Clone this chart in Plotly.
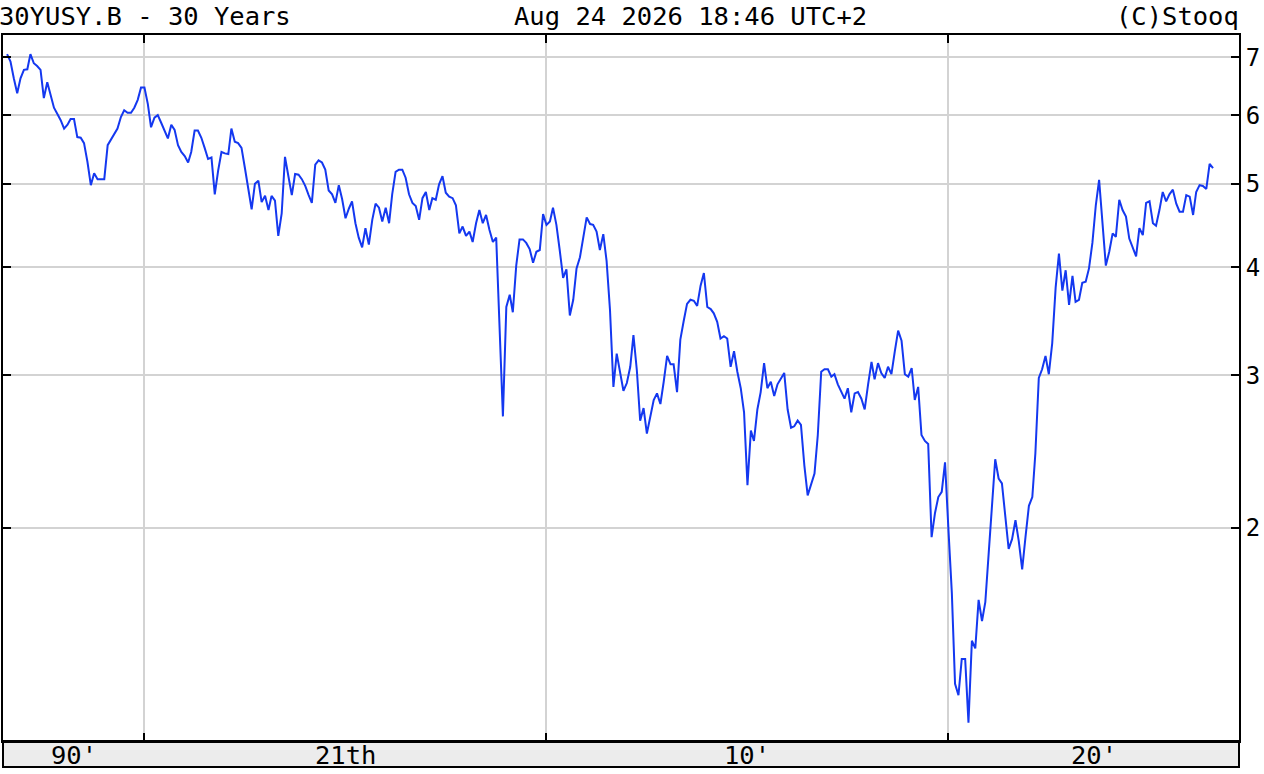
import pandas as pd
import plotly.graph_objects as go

# ---------------- data (monthly closes, % yield) ----------------
start_month = "1996-08-01"

yields_1996_1999 = [
    7.06, 6.92, 6.62, 6.36, 6.62,
    6.77, 6.78, 7.06, 6.89, 6.84, 6.77, 6.28, 6.55, 6.32, 6.12, 6.02, 5.92,
    5.79, 5.85, 5.94, 5.94, 5.66, 5.65, 5.57, 5.30, 4.98, 5.14, 5.06, 5.06,
    5.06, 5.54, 5.62, 5.70, 5.79, 5.97, 6.08, 6.04, 6.04, 6.12, 6.25, 6.46,
]
yields_2000s = [
    6.46, 6.18, 5.81, 5.96, 6.00, 5.88, 5.77, 5.64, 5.85, 5.77, 5.54, 5.44,
    5.38, 5.29, 5.44, 5.76, 5.76, 5.65, 5.50, 5.34, 5.36, 4.86, 5.18, 5.44,
    5.42, 5.41, 5.79, 5.59, 5.57, 5.50, 5.22, 4.93, 4.67, 5.00, 5.04, 4.76,
    4.84, 4.66, 4.84, 4.78, 4.35, 4.62, 5.37, 5.10, 4.85, 5.13, 5.12, 5.06,
    4.97, 4.85, 4.75, 5.26, 5.32, 5.29, 5.19, 4.91, 4.86, 4.75, 4.98, 4.80,
    4.56, 4.68, 4.77, 4.50, 4.33, 4.22, 4.44, 4.25, 4.54, 4.74, 4.69, 4.52,
    4.69, 4.50, 4.86, 5.16, 5.19, 5.19, 5.08, 4.86, 4.75, 4.71, 4.54, 4.81,
    4.89, 4.66, 4.81, 4.79, 4.99, 5.10, 4.88, 4.83, 4.81, 4.72, 4.38, 4.46,
    4.35, 4.40, 4.28, 4.50, 4.66, 4.50, 4.60, 4.42, 4.28, 4.33, 3.45, 2.69,
    3.60, 3.72, 3.55, 4.02, 4.31, 4.31, 4.27, 4.20, 4.05, 4.17, 4.19, 4.61,
]
yields_2010s = [
    4.48, 4.52, 4.69, 4.48, 4.19, 3.89, 3.98, 3.52, 3.67, 3.99, 4.11, 4.33,
    4.57, 4.49, 4.48, 4.40, 4.19, 4.37, 4.07, 3.57, 2.91, 3.18, 3.01, 2.88,
    2.94, 3.07, 3.34, 3.04, 2.66, 2.75, 2.57, 2.69, 2.81, 2.86, 2.78, 2.95,
    3.16, 3.09, 3.09, 2.87, 3.30, 3.47, 3.63, 3.67, 3.66, 3.61, 3.81, 3.94,
    3.60, 3.58, 3.54, 3.46, 3.31, 3.33, 3.31, 3.07, 3.20, 3.03, 2.90, 2.72,
    2.24, 2.59, 2.52, 2.74, 2.87, 3.10, 2.90, 2.95, 2.84, 2.93, 2.98, 3.02,
    2.74, 2.61, 2.62, 2.66, 2.63, 2.36, 2.18, 2.24, 2.31, 2.56, 3.03, 3.05,
    3.05, 2.99, 3.01, 2.93, 2.87, 2.82, 2.90, 2.72, 2.86, 2.87, 2.82, 2.74,
    2.93, 3.11, 2.97, 3.10, 3.02, 2.98, 3.07, 3.01, 3.20, 3.38, 3.29, 3.01,
    2.99, 3.06, 2.81, 2.91, 2.56, 2.52, 2.50, 1.95, 2.08, 2.17, 2.20, 2.38,
]
yields_2020s = [
    1.99, 1.68, 1.32, 1.28, 1.41, 1.41, 1.19, 1.48, 1.45, 1.65, 1.56, 1.64,
    1.87, 2.16, 2.40, 2.28, 2.25, 2.06, 1.89, 1.94, 2.04, 1.93, 1.79, 1.95,
    2.12, 2.17, 2.44, 2.98, 3.05, 3.16, 3.01, 3.27, 3.79, 4.15, 3.76, 3.97,
    3.62, 3.91, 3.65, 3.67, 3.84, 3.85, 3.99, 4.27, 4.72, 5.05, 4.53, 4.02,
    4.17, 4.38, 4.34, 4.79, 4.66, 4.58, 4.32, 4.22, 4.12, 4.44, 4.36, 4.75,
    4.77, 4.50, 4.47, 4.66, 4.89, 4.77, 4.86, 4.92, 4.74, 4.64, 4.64, 4.85,
    4.83, 4.60, 4.89, 4.98, 4.97, 4.93, 5.27, 5.21,
]

y_tick_values = [2, 3, 4, 5, 6, 7]
y_tick_labels = ["2", "3", "4", "5", "6", "7"]
decade_lines = ["2000-01-01", "2010-01-01", "2020-01-01"]
band_labels = ["90'", "21th", "10'", "20'"]

title_left = "30YUSY.B - 30 Years"
title_mid = "Aug 24 2026 18:46 UTC+2"
title_right = "(C)Stooq"

# ---------------- build ----------------
values = yields_1996_1999 + yields_2000s + yields_2010s + yields_2020s
dates = pd.date_range(start_month, periods=len(values), freq="MS") + pd.Timedelta(days=4)

FONT = "DejaVu Sans Mono"
FS = 25.5
LINE_BLUE = "#1438f0"
GRID = "#d3d3d3"

W, H = 1264, 774
ML, MR, MT, MB = 3, 25, 35, 33
plot_w = W - ML - MR
plot_h = H - MT - MB

# x range: decade = 402 px, 2000-01-01 sits 141 px from the left edge
px_per_year = 40.2
y2000 = pd.Timestamp("2000-01-01")
x_start = y2000 - pd.Timedelta(days=141 / px_per_year * 365.25)
x_end = y2000 + pd.Timedelta(days=(plot_w - 141) / px_per_year * 365.25)

fig = go.Figure()
fig.add_trace(go.Scatter(
    x=dates, y=values, mode="lines",
    line=dict(color=LINE_BLUE, width=2),
    hoverinfo="skip", showlegend=False,
))

fig.update_layout(
    width=W, height=H, autosize=False,
    margin=dict(l=ML, r=MR, t=MT, b=MB, pad=0),
    paper_bgcolor="white", plot_bgcolor="white",
    showlegend=False,
    font=dict(family=FONT, size=FS, color="black"),
)

fig.update_xaxes(
    type="date", range=[x_start, x_end], automargin=False,
    tickvals=decade_lines, showticklabels=False,
    ticks="inside", ticklen=8, tickwidth=2, tickcolor="black",
    showline=True, linewidth=2, linecolor="black", mirror="ticks",
    showgrid=True, gridcolor=GRID, gridwidth=2, zeroline=False,
)
fig.update_yaxes(
    type="log", side="right", range=[0.054326, 0.87089], automargin=False,
    tickvals=y_tick_values, ticktext=y_tick_labels,
    ticks="inside", ticklen=8, tickwidth=2, tickcolor="black",
    showline=True, linewidth=2, linecolor="black", mirror="ticks",
    showgrid=True, gridcolor=GRID, gridwidth=2, zeroline=False,
    tickfont=dict(family=FONT, size=24, color="black"),
    ticklabelstandoff=0,
)

# bottom band
band_h = 26 / plot_h
fig.add_shape(type="rect", xref="paper", yref="paper",
              x0=0, x1=1, y0=-band_h, y1=0,
              fillcolor="#ececec", line=dict(color="black", width=2), layer="below")

# band labels at decade-segment midpoints
edges = [x_start] + [pd.Timestamp(d) for d in decade_lines] + [x_end]
for i, lab in enumerate(band_labels):
    mid = edges[i] + (edges[i + 1] - edges[i]) / 2
    fig.add_annotation(x=mid, xref="x", y=-band_h / 2 - 1 / plot_h, yref="paper",
                       text=lab, showarrow=False, xanchor="center", yanchor="middle",
                       font=dict(family=FONT, size=FS, color="black"))

# header texts
ty = 1 + (MT - 16) / plot_h
fig.add_annotation(x=(-3 - ML) / plot_w, y=ty, xref="paper", yref="paper",
                   text=title_left, showarrow=False, xanchor="left", yanchor="middle",
                   font=dict(family=FONT, size=FS, color="black"))
fig.add_annotation(x=(512 - ML) / plot_w, y=ty, xref="paper", yref="paper",
                   text=title_mid, showarrow=False, xanchor="left", yanchor="middle",
                   font=dict(family=FONT, size=FS, color="black"))
fig.add_annotation(x=1.0 + 2 / plot_w, y=ty, xref="paper", yref="paper",
                   text=title_right, showarrow=False, xanchor="right", yanchor="middle",
                   font=dict(family=FONT, size=FS, color="black"))

fig.write_html("out.html", config={"displayModeBar": False},
               post_script="document.body.style.margin='0';")
